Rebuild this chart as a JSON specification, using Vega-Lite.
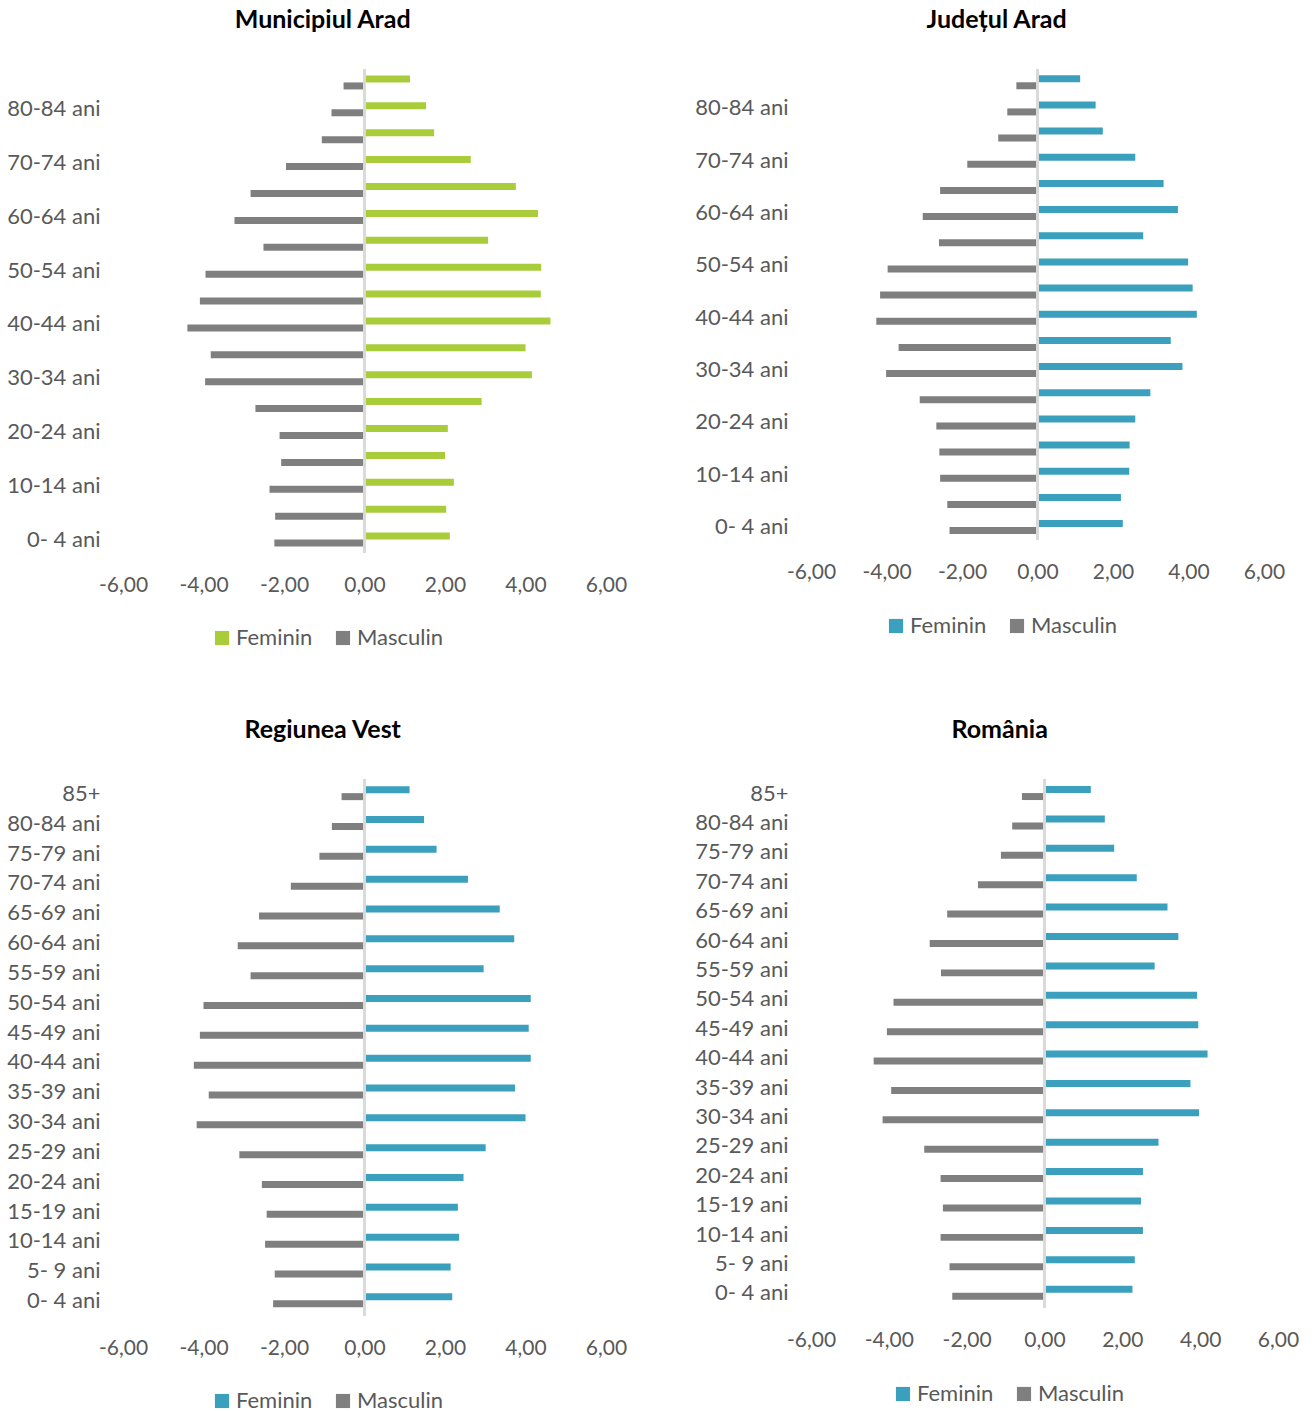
{
  "$schema": "https://vega.github.io/schema/vega-lite/v6.json",
  "padding": {"left": 6, "top": 8, "right": 5, "bottom": 5},
  "background": "white",
  "config": {
    "font": "Lato",
    "view": {"stroke": null},
    "title": {"fontSize": 25, "fontWeight": "bold", "color": "#000000", "offset": 35, "anchor": "middle", "frame": "bounds"},
    "axisX": {"domain": false, "ticks": false, "tickSize": 0, "grid": false, "labelFontSize": 21, "labelColor": "#595959", "labelPadding": 21, "labelFlush": false, "labelOverlap": false, "labelBound": false, "title": null, "labelExpr": "replace(replace(format(datum.value, '.2f'), '.', ','), '\u2212', '-')"},
    "axisY": {"domain": false, "ticks": false, "tickSize": 0, "grid": false, "labelFontSize": 22, "labelColor": "#595959", "labelPadding": 23, "title": null},
    "legend": {"direction": "horizontal", "title": null, "symbolType": "square", "symbolSize": 200, "symbolStrokeWidth": 0, "labelFontSize": 22, "labelColor": "#595959", "columnPadding": 19, "labelOffset": 3},
    "bar": {"stroke": null}
  },
  "datasets": {
    "mun": [
      {"age": "85+", "sex": "Feminin", "value": 1.13}, {"age": "85+", "sex": "Masculin", "value": -0.52},
      {"age": "80-84 ani", "sex": "Feminin", "value": 1.53}, {"age": "80-84 ani", "sex": "Masculin", "value": -0.82},
      {"age": "75-79 ani", "sex": "Feminin", "value": 1.73}, {"age": "75-79 ani", "sex": "Masculin", "value": -1.06},
      {"age": "70-74 ani", "sex": "Feminin", "value": 2.64}, {"age": "70-74 ani", "sex": "Masculin", "value": -1.95},
      {"age": "65-69 ani", "sex": "Feminin", "value": 3.76}, {"age": "65-69 ani", "sex": "Masculin", "value": -2.83},
      {"age": "60-64 ani", "sex": "Feminin", "value": 4.31}, {"age": "60-64 ani", "sex": "Masculin", "value": -3.23},
      {"age": "55-59 ani", "sex": "Feminin", "value": 3.07}, {"age": "55-59 ani", "sex": "Masculin", "value": -2.51},
      {"age": "50-54 ani", "sex": "Feminin", "value": 4.39}, {"age": "50-54 ani", "sex": "Masculin", "value": -3.95},
      {"age": "45-49 ani", "sex": "Feminin", "value": 4.38}, {"age": "45-49 ani", "sex": "Masculin", "value": -4.09},
      {"age": "40-44 ani", "sex": "Feminin", "value": 4.62}, {"age": "40-44 ani", "sex": "Masculin", "value": -4.40},
      {"age": "35-39 ani", "sex": "Feminin", "value": 4.00}, {"age": "35-39 ani", "sex": "Masculin", "value": -3.82},
      {"age": "30-34 ani", "sex": "Feminin", "value": 4.16}, {"age": "30-34 ani", "sex": "Masculin", "value": -3.96},
      {"age": "25-29 ani", "sex": "Feminin", "value": 2.91}, {"age": "25-29 ani", "sex": "Masculin", "value": -2.71},
      {"age": "20-24 ani", "sex": "Feminin", "value": 2.07}, {"age": "20-24 ani", "sex": "Masculin", "value": -2.11},
      {"age": "15-19 ani", "sex": "Feminin", "value": 2.00}, {"age": "15-19 ani", "sex": "Masculin", "value": -2.07},
      {"age": "10-14 ani", "sex": "Feminin", "value": 2.22}, {"age": "10-14 ani", "sex": "Masculin", "value": -2.36},
      {"age": "5- 9 ani", "sex": "Feminin", "value": 2.03}, {"age": "5- 9 ani", "sex": "Masculin", "value": -2.22},
      {"age": "0- 4 ani", "sex": "Feminin", "value": 2.12}, {"age": "0- 4 ani", "sex": "Masculin", "value": -2.24}
    ],
    "jud": [
      {"age": "85+", "sex": "Feminin", "value": 1.13}, {"age": "85+", "sex": "Masculin", "value": -0.56},
      {"age": "80-84 ani", "sex": "Feminin", "value": 1.54}, {"age": "80-84 ani", "sex": "Masculin", "value": -0.80},
      {"age": "75-79 ani", "sex": "Feminin", "value": 1.73}, {"age": "75-79 ani", "sex": "Masculin", "value": -1.04},
      {"age": "70-74 ani", "sex": "Feminin", "value": 2.59}, {"age": "70-74 ani", "sex": "Masculin", "value": -1.86},
      {"age": "65-69 ani", "sex": "Feminin", "value": 3.34}, {"age": "65-69 ani", "sex": "Masculin", "value": -2.58},
      {"age": "60-64 ani", "sex": "Feminin", "value": 3.72}, {"age": "60-64 ani", "sex": "Masculin", "value": -3.04},
      {"age": "55-59 ani", "sex": "Feminin", "value": 2.80}, {"age": "55-59 ani", "sex": "Masculin", "value": -2.61},
      {"age": "50-54 ani", "sex": "Feminin", "value": 3.99}, {"age": "50-54 ani", "sex": "Masculin", "value": -3.97},
      {"age": "45-49 ani", "sex": "Feminin", "value": 4.11}, {"age": "45-49 ani", "sex": "Masculin", "value": -4.17},
      {"age": "40-44 ani", "sex": "Feminin", "value": 4.22}, {"age": "40-44 ani", "sex": "Masculin", "value": -4.27},
      {"age": "35-39 ani", "sex": "Feminin", "value": 3.53}, {"age": "35-39 ani", "sex": "Masculin", "value": -3.68},
      {"age": "30-34 ani", "sex": "Feminin", "value": 3.84}, {"age": "30-34 ani", "sex": "Masculin", "value": -4.01},
      {"age": "25-29 ani", "sex": "Feminin", "value": 2.99}, {"age": "25-29 ani", "sex": "Masculin", "value": -3.12},
      {"age": "20-24 ani", "sex": "Feminin", "value": 2.59}, {"age": "20-24 ani", "sex": "Masculin", "value": -2.68},
      {"age": "15-19 ani", "sex": "Feminin", "value": 2.44}, {"age": "15-19 ani", "sex": "Masculin", "value": -2.60},
      {"age": "10-14 ani", "sex": "Feminin", "value": 2.43}, {"age": "10-14 ani", "sex": "Masculin", "value": -2.58},
      {"age": "5- 9 ani", "sex": "Feminin", "value": 2.21}, {"age": "5- 9 ani", "sex": "Masculin", "value": -2.39},
      {"age": "0- 4 ani", "sex": "Feminin", "value": 2.26}, {"age": "0- 4 ani", "sex": "Masculin", "value": -2.33}
    ],
    "reg": [
      {"age": "85+", "sex": "Feminin", "value": 1.12}, {"age": "85+", "sex": "Masculin", "value": -0.57},
      {"age": "80-84 ani", "sex": "Feminin", "value": 1.48}, {"age": "80-84 ani", "sex": "Masculin", "value": -0.81},
      {"age": "75-79 ani", "sex": "Feminin", "value": 1.79}, {"age": "75-79 ani", "sex": "Masculin", "value": -1.12},
      {"age": "70-74 ani", "sex": "Feminin", "value": 2.57}, {"age": "70-74 ani", "sex": "Masculin", "value": -1.83},
      {"age": "65-69 ani", "sex": "Feminin", "value": 3.36}, {"age": "65-69 ani", "sex": "Masculin", "value": -2.62},
      {"age": "60-64 ani", "sex": "Feminin", "value": 3.72}, {"age": "60-64 ani", "sex": "Masculin", "value": -3.15},
      {"age": "55-59 ani", "sex": "Feminin", "value": 2.96}, {"age": "55-59 ani", "sex": "Masculin", "value": -2.83},
      {"age": "50-54 ani", "sex": "Feminin", "value": 4.13}, {"age": "50-54 ani", "sex": "Masculin", "value": -4.00},
      {"age": "45-49 ani", "sex": "Feminin", "value": 4.08}, {"age": "45-49 ani", "sex": "Masculin", "value": -4.09},
      {"age": "40-44 ani", "sex": "Feminin", "value": 4.13}, {"age": "40-44 ani", "sex": "Masculin", "value": -4.24},
      {"age": "35-39 ani", "sex": "Feminin", "value": 3.74}, {"age": "35-39 ani", "sex": "Masculin", "value": -3.87},
      {"age": "30-34 ani", "sex": "Feminin", "value": 4.00}, {"age": "30-34 ani", "sex": "Masculin", "value": -4.17},
      {"age": "25-29 ani", "sex": "Feminin", "value": 3.01}, {"age": "25-29 ani", "sex": "Masculin", "value": -3.11},
      {"age": "20-24 ani", "sex": "Feminin", "value": 2.46}, {"age": "20-24 ani", "sex": "Masculin", "value": -2.55},
      {"age": "15-19 ani", "sex": "Feminin", "value": 2.32}, {"age": "15-19 ani", "sex": "Masculin", "value": -2.43},
      {"age": "10-14 ani", "sex": "Feminin", "value": 2.35}, {"age": "10-14 ani", "sex": "Masculin", "value": -2.47},
      {"age": "5- 9 ani", "sex": "Feminin", "value": 2.14}, {"age": "5- 9 ani", "sex": "Masculin", "value": -2.23},
      {"age": "0- 4 ani", "sex": "Feminin", "value": 2.18}, {"age": "0- 4 ani", "sex": "Masculin", "value": -2.27}
    ],
    "ro": [
      {"age": "85+", "sex": "Feminin", "value": 1.19}, {"age": "85+", "sex": "Masculin", "value": -0.58},
      {"age": "80-84 ani", "sex": "Feminin", "value": 1.55}, {"age": "80-84 ani", "sex": "Masculin", "value": -0.83},
      {"age": "75-79 ani", "sex": "Feminin", "value": 1.79}, {"age": "75-79 ani", "sex": "Masculin", "value": -1.12},
      {"age": "70-74 ani", "sex": "Feminin", "value": 2.37}, {"age": "70-74 ani", "sex": "Masculin", "value": -1.71},
      {"age": "65-69 ani", "sex": "Feminin", "value": 3.16}, {"age": "65-69 ani", "sex": "Masculin", "value": -2.50},
      {"age": "60-64 ani", "sex": "Feminin", "value": 3.44}, {"age": "60-64 ani", "sex": "Masculin", "value": -2.95},
      {"age": "55-59 ani", "sex": "Feminin", "value": 2.83}, {"age": "55-59 ani", "sex": "Masculin", "value": -2.66},
      {"age": "50-54 ani", "sex": "Feminin", "value": 3.92}, {"age": "50-54 ani", "sex": "Masculin", "value": -3.88},
      {"age": "45-49 ani", "sex": "Feminin", "value": 3.95}, {"age": "45-49 ani", "sex": "Masculin", "value": -4.05},
      {"age": "40-44 ani", "sex": "Feminin", "value": 4.19}, {"age": "40-44 ani", "sex": "Masculin", "value": -4.39},
      {"age": "35-39 ani", "sex": "Feminin", "value": 3.75}, {"age": "35-39 ani", "sex": "Masculin", "value": -3.94},
      {"age": "30-34 ani", "sex": "Feminin", "value": 3.97}, {"age": "30-34 ani", "sex": "Masculin", "value": -4.16},
      {"age": "25-29 ani", "sex": "Feminin", "value": 2.93}, {"age": "25-29 ani", "sex": "Masculin", "value": -3.09},
      {"age": "20-24 ani", "sex": "Feminin", "value": 2.53}, {"age": "20-24 ani", "sex": "Masculin", "value": -2.67},
      {"age": "15-19 ani", "sex": "Feminin", "value": 2.48}, {"age": "15-19 ani", "sex": "Masculin", "value": -2.61},
      {"age": "10-14 ani", "sex": "Feminin", "value": 2.53}, {"age": "10-14 ani", "sex": "Masculin", "value": -2.67},
      {"age": "5- 9 ani", "sex": "Feminin", "value": 2.32}, {"age": "5- 9 ani", "sex": "Masculin", "value": -2.44},
      {"age": "0- 4 ani", "sex": "Feminin", "value": 2.26}, {"age": "0- 4 ani", "sex": "Masculin", "value": -2.37}
    ]
  },
  "resolve": {"scale": {"color": "independent", "x": "independent", "y": "independent"}, "legend": {"color": "independent"}},
  "spacing": 69,
  "vconcat": [
    {
      "spacing": 67,
      "resolve": {"scale": {"color": "independent", "x": "independent", "y": "independent"}, "legend": {"color": "independent"}},
      "hconcat": [
        {
          "title": {"text": "Municipiul Arad", "dx": 6},
          "width": 483,
          "height": 484,
          "data": {"name": "mun"},
          "layer": [
            {
              "mark": {"type": "bar"},
              "encoding": {
                "y": {"field": "age", "type": "nominal", "sort": ["85+", "80-84 ani", "75-79 ani", "70-74 ani", "65-69 ani", "60-64 ani", "55-59 ani", "50-54 ani", "45-49 ani", "40-44 ani", "35-39 ani", "30-34 ani", "25-29 ani", "20-24 ani", "15-19 ani", "10-14 ani", "5- 9 ani", "0- 4 ani"], "scale": {"paddingInner": 0.48, "paddingOuter": 0.24}, "axis": {"values": ["80-84 ani", "70-74 ani", "60-64 ani", "50-54 ani", "40-44 ani", "30-34 ani", "20-24 ani", "10-14 ani", "0- 4 ani"]}},
                "yOffset": {"field": "sex", "type": "nominal", "sort": ["Feminin", "Masculin"]},
                "x": {"field": "value", "type": "quantitative", "scale": {"domain": [-6, 6], "nice": false}, "axis": {"values": [-6, -4, -2, 0, 2, 4, 6]}},
                "color": {"field": "sex", "type": "nominal", "sort": ["Feminin", "Masculin"], "scale": {"domain": ["Feminin", "Masculin"], "range": ["#A9CC3A", "#7F7F7F"]}, "legend": {"orient": "none", "legendX": 88, "legendY": 558}}
              }
            },
            {"mark": {"type": "rule", "color": "#D9D9D9", "strokeWidth": 2}, "encoding": {"x": {"datum": 0}}}
          ]
        },
        {
          "title": {"text": "Județul Arad", "dx": 7},
          "width": 453,
          "height": 471,
          "data": {"name": "jud"},
          "layer": [
            {
              "mark": {"type": "bar"},
              "encoding": {
                "y": {"field": "age", "type": "nominal", "sort": ["85+", "80-84 ani", "75-79 ani", "70-74 ani", "65-69 ani", "60-64 ani", "55-59 ani", "50-54 ani", "45-49 ani", "40-44 ani", "35-39 ani", "30-34 ani", "25-29 ani", "20-24 ani", "15-19 ani", "10-14 ani", "5- 9 ani", "0- 4 ani"], "scale": {"paddingInner": 0.48, "paddingOuter": 0.24}, "axis": {"values": ["80-84 ani", "70-74 ani", "60-64 ani", "50-54 ani", "40-44 ani", "30-34 ani", "20-24 ani", "10-14 ani", "0- 4 ani"]}},
                "yOffset": {"field": "sex", "type": "nominal", "sort": ["Feminin", "Masculin"]},
                "x": {"field": "value", "type": "quantitative", "scale": {"domain": [-6, 6], "nice": false}, "axis": {"values": [-6, -4, -2, 0, 2, 4, 6]}},
                "color": {"field": "sex", "type": "nominal", "sort": ["Feminin", "Masculin"], "scale": {"domain": ["Feminin", "Masculin"], "range": ["#3AA0BE", "#7F7F7F"]}, "legend": {"orient": "none", "legendX": 74, "legendY": 546}}
              }
            },
            {"mark": {"type": "rule", "color": "#D9D9D9", "strokeWidth": 2}, "encoding": {"x": {"datum": 0}}}
          ]
        }
      ]
    },
    {
      "spacing": 67,
      "resolve": {"scale": {"color": "independent", "x": "independent", "y": "independent"}, "legend": {"color": "independent"}},
      "hconcat": [
        {
          "title": {"text": "Regiunea Vest", "dx": 6},
          "width": 483,
          "height": 537,
          "data": {"name": "reg"},
          "layer": [
            {
              "mark": {"type": "bar"},
              "encoding": {
                "y": {"field": "age", "type": "nominal", "sort": ["85+", "80-84 ani", "75-79 ani", "70-74 ani", "65-69 ani", "60-64 ani", "55-59 ani", "50-54 ani", "45-49 ani", "40-44 ani", "35-39 ani", "30-34 ani", "25-29 ani", "20-24 ani", "15-19 ani", "10-14 ani", "5- 9 ani", "0- 4 ani"], "scale": {"paddingInner": 0.48, "paddingOuter": 0.24}},
                "yOffset": {"field": "sex", "type": "nominal", "sort": ["Feminin", "Masculin"]},
                "x": {"field": "value", "type": "quantitative", "scale": {"domain": [-6, 6], "nice": false}, "axis": {"values": [-6, -4, -2, 0, 2, 4, 6]}},
                "color": {"field": "sex", "type": "nominal", "sort": ["Feminin", "Masculin"], "scale": {"domain": ["Feminin", "Masculin"], "range": ["#3AA0BE", "#7F7F7F"]}, "legend": {"orient": "none", "legendX": 88, "legendY": 611}}
              }
            },
            {"mark": {"type": "rule", "color": "#D9D9D9", "strokeWidth": 2}, "encoding": {"x": {"datum": 0}}}
          ]
        },
        {
          "title": {"text": "România", "dx": 3},
          "width": 467,
          "height": 529,
          "data": {"name": "ro"},
          "layer": [
            {
              "mark": {"type": "bar"},
              "encoding": {
                "y": {"field": "age", "type": "nominal", "sort": ["85+", "80-84 ani", "75-79 ani", "70-74 ani", "65-69 ani", "60-64 ani", "55-59 ani", "50-54 ani", "45-49 ani", "40-44 ani", "35-39 ani", "30-34 ani", "25-29 ani", "20-24 ani", "15-19 ani", "10-14 ani", "5- 9 ani", "0- 4 ani"], "scale": {"paddingInner": 0.48, "paddingOuter": 0.24}},
                "yOffset": {"field": "sex", "type": "nominal", "sort": ["Feminin", "Masculin"]},
                "x": {"field": "value", "type": "quantitative", "scale": {"domain": [-6, 6], "nice": false}, "axis": {"values": [-6, -4, -2, 0, 2, 4, 6]}},
                "color": {"field": "sex", "type": "nominal", "sort": ["Feminin", "Masculin"], "scale": {"domain": ["Feminin", "Masculin"], "range": ["#3AA0BE", "#7F7F7F"]}, "legend": {"orient": "none", "legendX": 81, "legendY": 604}}
              }
            },
            {"mark": {"type": "rule", "color": "#D9D9D9", "strokeWidth": 2}, "encoding": {"x": {"datum": 0}}}
          ]
        }
      ]
    }
  ]
}
